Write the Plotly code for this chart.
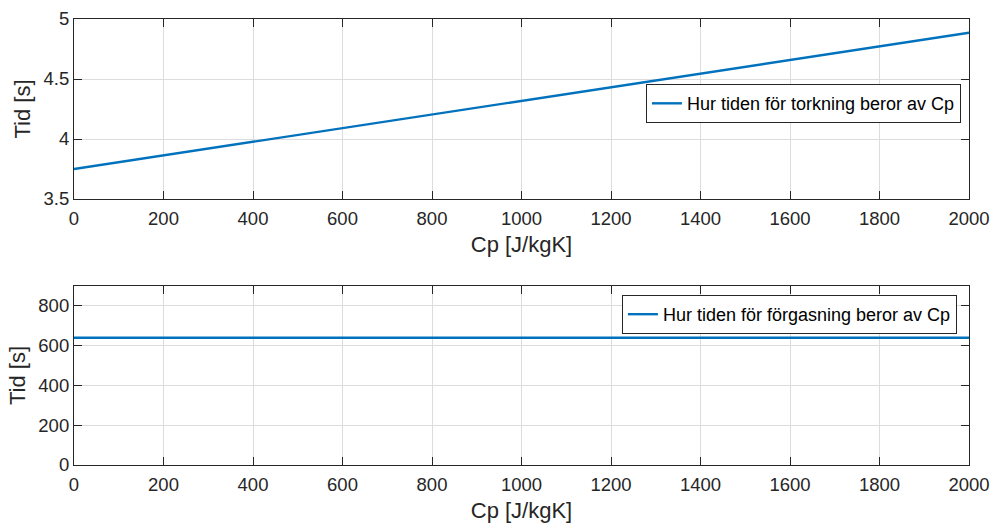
import plotly.graph_objects as go
from plotly.subplots import make_subplots

cp = [0, 2000]
tid_torkning = [3.75, 4.885]
tid_forgasning = [640, 640]

name_top = "Hur tiden för torkning beror av Cp"
name_bot = "Hur tiden för förgasning beror av Cp"

fig = make_subplots(rows=2, cols=1)
fig.add_trace(go.Scatter(x=cp, y=tid_torkning, mode="lines", name=name_top,
                         line=dict(color="#0072BD", width=2.4), legend="legend"), row=1, col=1)
fig.add_trace(go.Scatter(x=cp, y=tid_forgasning, mode="lines", name=name_bot,
                         line=dict(color="#0072BD", width=2.4), legend="legend2"), row=2, col=1)

axcommon = dict(showline=True, linecolor="#262626", linewidth=1.2, mirror="ticks",
                ticks="inside", ticklen=8, tickcolor="#262626",
                showgrid=True, gridcolor="#dcdcdc", gridwidth=1, zeroline=False,
                tickfont=dict(size=18.5, color="#262626"),
                title_font=dict(size=22, color="#262626"), automargin=False)

fig.update_xaxes(range=[0, 2000], dtick=200, title_text="Cp [J/kgK]", title_standoff=8,
                 ticklabelstandoff=3, **axcommon)
fig.update_yaxes(**axcommon)
fig.update_yaxes(range=[3.5, 5], dtick=0.5, title_text="Tid [s]", title_standoff=6, row=1, col=1)
fig.update_yaxes(range=[0, 900], tickvals=[0, 200, 400, 600, 800], title_text="Tid [s]", title_standoff=6, row=2, col=1)

fig.update_layout(
    width=992, height=524,
    margin=dict(l=74, r=23, t=19, b=59),
    plot_bgcolor="white", paper_bgcolor="white",
    font=dict(family="Liberation Sans, Arial, sans-serif", color="#262626"),
    xaxis=dict(domain=[0, 1]), yaxis=dict(domain=[0.5964, 1]),
    xaxis2=dict(domain=[0, 1]), yaxis2=dict(domain=[0, 0.4013]),
    legend=dict(x=0.991, y=0.854, xanchor="right", yanchor="top",
                bordercolor="#262626", borderwidth=1, bgcolor="white",
                font=dict(size=18, color="black"), itemwidth=30,
                tracegroupgap=0),
    legend2=dict(x=0.9865, y=0.3812, xanchor="right", yanchor="top",
                 bordercolor="#262626", borderwidth=1, bgcolor="white",
                 font=dict(size=18, color="black"), itemwidth=30),
    showlegend=True,
)

fig.write_html("out.html")
